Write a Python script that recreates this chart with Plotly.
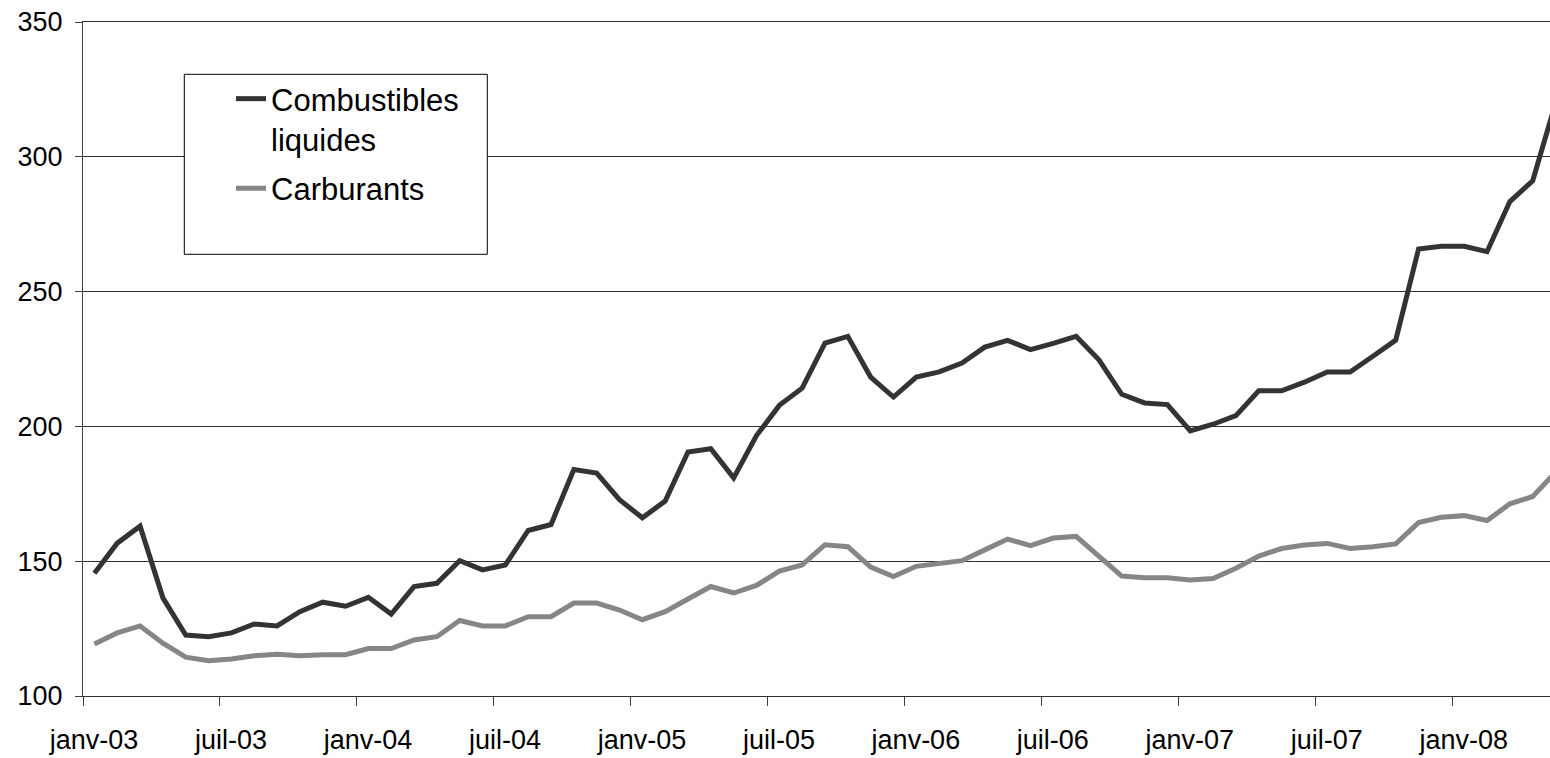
import plotly.graph_objects as go

MOIS = ["janv", "févr", "mars", "avr", "mai", "juin",
        "juil", "août", "sept", "oct", "nov", "déc"]
months = [f"{m}-{y:02d}" for y in range(3, 9) for m in MOIS][:65]

tick_labels = ["janv-03", "juil-03", "janv-04", "juil-04", "janv-05", "juil-05",
               "janv-06", "juil-06", "janv-07", "juil-07", "janv-08"]

combustibles = [145.5, 156.7, 163.0, 136.4, 122.6, 122.0, 123.4, 126.7, 126.0, 131.3,
                134.8, 133.3, 136.6, 130.4, 140.6, 141.8, 150.2, 146.8, 148.6, 161.4,
                163.6, 184.0, 182.7, 172.8, 166.1, 172.3, 190.5, 191.7, 180.9, 196.6,
                207.8, 214.2, 230.9, 233.4, 218.3, 210.9, 218.3, 220.2, 223.5, 229.4,
                231.9, 228.5, 230.8, 233.4, 224.7, 211.9, 208.7, 208.1, 198.3, 200.8,
                204.0, 213.2, 213.2, 216.4, 220.2, 220.2, 226.0, 232.0, 265.8, 266.8,
                266.8, 264.8, 283.4, 291.1, 320.0]

carburants = [119.3, 123.4, 126.0, 119.6, 114.4, 113.1, 113.7, 114.9, 115.5, 114.9,
              115.3, 115.3, 117.6, 117.6, 120.8, 122.0, 128.0, 126.0, 126.0, 129.4,
              129.4, 134.5, 134.5, 131.9, 128.3, 131.3, 136.0, 140.6, 138.2, 141.0,
              146.3, 148.6, 156.1, 155.4, 147.8, 144.3, 148.1, 149.0, 150.2, 154.2,
              158.2, 155.8, 158.6, 159.2, 151.9, 144.5, 143.9, 143.9, 143.0, 143.6,
              147.4, 151.9, 154.7, 156.0, 156.6, 154.7, 155.4, 156.4, 164.3, 166.3,
              166.9, 165.1, 171.3, 174.0, 183.0]

x_idx = list(range(len(months)))
tick_pos = [months.index(t) - 0.5 for t in tick_labels]

FONT = "Liberation Sans, Arial, sans-serif"

fig = go.Figure()
fig.add_trace(go.Scatter(x=x_idx, y=combustibles, mode="lines",
                         name="Combustibles<br>liquides", text=months,
                         legendgroup="a",
                         line=dict(color="#333333", width=5)))
fig.add_trace(go.Scatter(x=x_idx, y=carburants, mode="lines",
                         name="Carburants", text=months,
                         legendgroup="b",
                         line=dict(color="#868686", width=5)))

W, H = 1550, 758
L, R, T, B = 83, 0, 22, 62
pw, ph = W - L - R, H - T - B


def px_x(p):
    return (p - L) / pw


def px_y(p):
    return (H - B - p) / ph


fig.update_layout(
    width=W, height=H, autosize=False,
    margin=dict(l=L, r=R, t=T, b=B, pad=0),
    paper_bgcolor="white", plot_bgcolor="white",
    font=dict(family=FONT, color="black", size=27),
    showlegend=True,
    legend=dict(x=px_x(231), y=px_y(72), xanchor="left", yanchor="top",
                bgcolor="rgba(0,0,0,0)", borderwidth=0,
                font=dict(family=FONT, size=31, color="black"),
                valign="top", tracegroupgap=6),
    shapes=[dict(type="rect", xref="paper", yref="paper",
                 x0=px_x(184.3), x1=px_x(487.3), y0=px_y(254.3), y1=px_y(74.3),
                 fillcolor="white", line=dict(color="black", width=1),
                 layer="above")],
)

fig.update_xaxes(range=[-0.5, -0.5 + pw / 22.83], tickmode="array", tickvals=tick_pos,
                 ticktext=tick_labels, ticklabelshift=11,
                 ticks="outside", ticklen=9, tickcolor="#404040", tickwidth=1,
                 showline=True, mirror=True, linecolor="#303030", linewidth=1,
                 showgrid=False, zeroline=False, ticklabelstandoff=11,
                 tickfont=dict(family=FONT, size=27, color="black"))
fig.update_yaxes(range=[100, 350], tickmode="array",
                 tickvals=[100, 150, 200, 250, 300, 350],
                 ticks="outside", ticklen=7, tickcolor="#404040", tickwidth=1,
                 showline=True, linecolor="#404040", linewidth=1,
                 showgrid=True, gridcolor="#303030", gridwidth=1,
                 zeroline=False, ticklabelstandoff=7, ticklabeloverflow="allow",
                 tickfont=dict(family=FONT, size=27, color="black"))

fig.write_html(
    "out.html",
    config={"displayModeBar": False},
    post_script="document.body.style.margin='0';document.body.style.overflow='hidden';",
)
